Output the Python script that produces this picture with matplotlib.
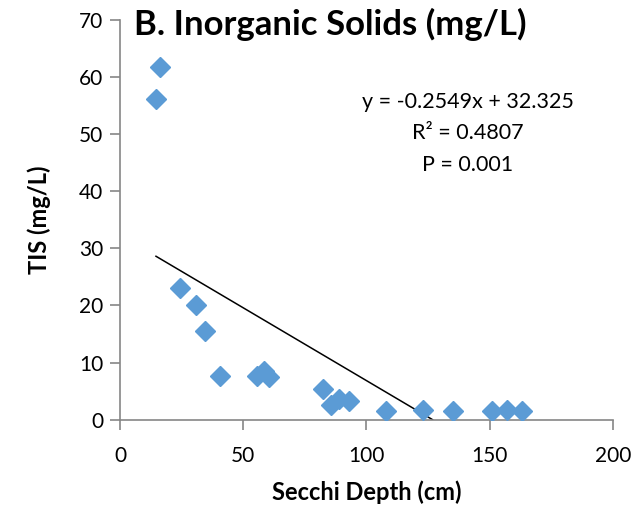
import matplotlib.pyplot as plt
import numpy as np

# Secchi depth (cm) vs total inorganic solids (mg/L)
secchi = [16.2, 14.6, 24.3, 30.7, 34.5, 40.7, 55.7, 58.6, 60.5,
          82.4, 85.8, 88.9, 93.0, 107.8, 123.0, 134.9, 150.8, 157.0, 163.1]
tis = [61.7, 56.2, 23.0, 20.0, 15.6, 7.7, 7.7, 8.5, 7.4,
       5.3, 2.6, 3.6, 3.2, 1.5, 1.7, 1.5, 1.5, 1.7, 1.5]

slope = -0.2549
intercept = 32.325
eq_lines = ["y = -0.2549x + 32.325", "R² = 0.4807", "P = 0.001"]

plt.rcParams['font.family'] = ['Lato', 'DejaVu Sans']

fig = plt.figure(figsize=(6.41, 5.11), dpi=100)
ax = fig.add_axes([0.1872, 0.1787, 0.7691, 0.7827])

ax.plot(secchi, tis, linestyle="none", marker="D", ms=10,
        color="#5B9BD5", zorder=3)

x_end = -intercept / slope
xs = np.array([min(secchi), x_end])
ax.plot(xs, slope * xs + intercept, color="black", linewidth=1.1, zorder=2)

ax.set_xlim(0, 200)
ax.set_ylim(0, 70)
ax.set_xticks([0, 50, 100, 150, 200])
ax.set_yticks(range(0, 71, 10))

for s in ["top", "right"]:
    ax.spines[s].set_visible(False)
for s in ["left", "bottom"]:
    ax.spines[s].set_color("#868686")
    ax.spines[s].set_linewidth(1.2)
ax.tick_params(direction="out", length=7, width=1.2, color="#868686",
               labelsize=15, pad=5)
ax.tick_params(axis="x", pad=12)

ax.set_xlabel("Secchi Depth (cm)", fontsize=17, fontweight="bold", labelpad=10)
ax.set_ylabel("TIS (mg/L)", fontsize=17, fontweight="bold", labelpad=20)

fig.text(0.515, 0.953, "B. Inorganic Solids (mg/L)", fontsize=25,
         fontweight="bold", ha="center", va="center")

ax.text(0.705, 0.82, "\n".join(eq_lines), transform=ax.transAxes,
        fontsize=15.5, ha="center", va="top", linespacing=1.72)

fig.savefig("out.png", dpi=100)
